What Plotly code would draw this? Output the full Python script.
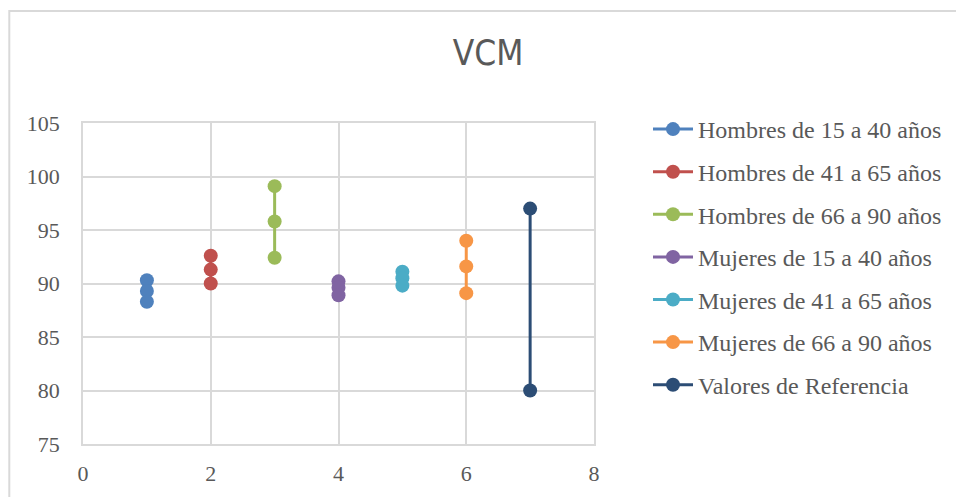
import plotly.graph_objects as go

# VCM values per group (x position = group index)
series_names = [
    "Hombres de 15 a 40 años",
    "Hombres de 41 a 65 años",
    "Hombres de 66 a 90 años",
    "Mujeres de 15 a 40 años",
    "Mujeres de 41 a 65 años",
    "Mujeres de 66 a 90 años",
    "Valores de Referencia",
]
series_x = [1, 2, 3, 4, 5, 6, 7]
hombres_15_40 = [90.3, 89.3, 88.3]
hombres_41_65 = [92.6, 91.3, 90.0]
hombres_66_90 = [99.1, 95.8, 92.4]
mujeres_15_40 = [90.2, 89.6, 88.9]
mujeres_41_65 = [91.1, 90.5, 89.8]
mujeres_66_90 = [94.0, 91.6, 89.1]
valores_referencia = [97.0, 80.0]

series_values = [
    hombres_15_40,
    hombres_41_65,
    hombres_66_90,
    mujeres_15_40,
    mujeres_41_65,
    mujeres_66_90,
    valores_referencia,
]
colors = ["#4F81BD", "#C0504D", "#9BBB59", "#8064A2", "#4BACC6", "#F79646", "#2C4D75"]

x_ticks = [0, 2, 4, 6, 8]
y_ticks = [75, 80, 85, 90, 95, 100, 105]

W, H = 956, 497
L, R, T, B = 83, 594, 123, 444  # plot-area pixel box

fig = go.Figure()
for i, (name, xv, vals, col) in enumerate(zip(series_names, series_x, series_values, colors)):
    fig.add_trace(go.Scatter(
        x=[xv] * len(vals), y=vals, name=name, mode="lines+markers",
        line=dict(color=col, width=3),
        marker=dict(color=col, size=14),
        legendgroup=f"g{i}",
    ))

grid = "#D9D9D9"
tick_font = dict(family="Liberation Serif, Times New Roman, serif", size=22, color="#595959")

fig.update_xaxes(
    range=[0, 8], tickvals=x_ticks, showgrid=True, gridcolor=grid, gridwidth=1.5,
    showline=True, linecolor=grid, linewidth=1.5, mirror=True, zeroline=False,
    ticks="", tickfont=tick_font, ticklabelstandoff=9,
)
fig.update_yaxes(
    range=[75, 105], tickvals=y_ticks, showgrid=True, gridcolor=grid, gridwidth=1.5,
    showline=True, linecolor=grid, linewidth=1.5, mirror=True, zeroline=False,
    ticks="", tickfont=tick_font, ticklabelstandoff=17,
)

pw, ph = R - L, B - T
# light outer chart frame, open towards the right and bottom edges
fig.add_shape(
    type="rect", xref="paper", yref="paper",
    x0=(9.3 - L) / pw, x1=(1100 - L) / pw,
    y0=(B - 600) / ph, y1=(B - 11) / ph,
    line=dict(color="#D9D9D9", width=2), fillcolor="rgba(0,0,0,0)", layer="below",
)

fig.update_layout(
    width=W, height=H,
    margin=dict(l=L, r=W - R, t=T, b=H - B, autoexpand=False),
    paper_bgcolor="white", plot_bgcolor="white",
    title=dict(
        text="VCM", xref="container", yref="container",
        x=488 / W, y=1 - 53 / H, xanchor="center", yanchor="middle",
        font=dict(family="DejaVu Sans Condensed, Liberation Sans Narrow, sans-serif",
                  size=35, color="#595959"),
    ),
    showlegend=True,
    legend=dict(
        x=(648 - L) / pw, xanchor="left", y=1.0 + 16 / ph, yanchor="top",
        font=dict(family="Liberation Serif, Times New Roman, serif", size=24, color="#595959"),
        tracegroupgap=8.4, bgcolor="rgba(0,0,0,0)", itemsizing="trace",
        itemwidth=40, maxheight=480,
    ),
)

fig.write_html("out.html")
